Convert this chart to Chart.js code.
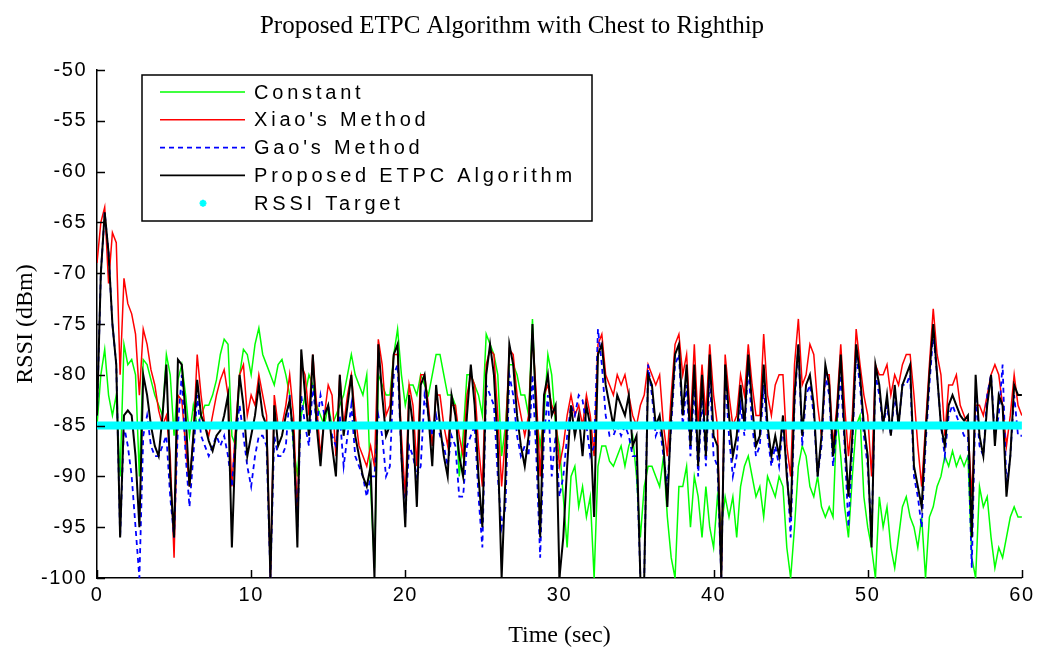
<!DOCTYPE html>
<html lang="en">

<head>
    <meta charset="UTF-8">
    <title>Proposed ETPC Algorithm with Chest to Righthip</title>
    <script src="https://cdn.jsdelivr.net/npm/chart.js"></script>
    <style>
        html, body { margin: 0; padding: 0; background: #fff; }
        #wrap { width: 1038px; height: 651px; }
    </style>
</head>

<body>
    <div id="wrap"><canvas id="rssiChart" width="1038" height="651"></canvas></div>

    <script>
        // samples are 0.25 s apart, 0..60 s (4 values per second, one row = 5 s)
        const timeStep = 0.25;
        const targetRssi = -85;

        const constantRssi = [
            -85, -80, -77.5, -82, -84, -82, -90, -77, -79, -78.5, -80, -90, -78.5, -79, -80.5, -82, -83, -84, -78, -80,
            -86, -80.5, -79, -82, -86, -83, -85, -84, -83, -83, -82, -80.5, -78, -76.5, -77, -86, -87, -80, -77.5, -78,
            -80, -77, -75.4, -78, -79, -80, -81, -79, -78.5, -80, -82, -87, -90, -84, -82, -80, -81, -83, -84, -85,
            -83, -85, -84, -83, -82, -80, -78, -80, -81, -82, -80, -91, -99, -80, -81, -82, -82, -78, -75.5, -80,
            -83, -81, -81, -82, -80, -81, -82, -80, -78, -78, -80, -82, -82, -83, -90, -86, -80, -80, -81, -82,
            -84, -76, -77, -78, -80, -88, -85, -79, -79, -80, -82, -82, -84, -74.5, -84, -87, -84, -78, -80, -85,
            -87, -92, -97, -90, -89, -93, -91, -94, -92, -100, -89, -87, -87, -88.5, -89, -88, -87, -89, -87, -86,
            -90, -96, -91, -89, -89, -90, -91, -88, -94, -98, -100, -91, -91, -89, -95, -90, -92, -96, -91, -95,
            -97, -92, -95, -92, -94, -92, -96, -91, -89, -88, -90, -92, -91, -94, -90, -91, -92, -90, -91, -97,
            -100, -95, -89, -87, -88, -91, -92, -90, -93, -94, -93, -94, -84, -88, -93, -96, -90, -85, -84, -92,
            -95, -97, -100, -92, -95, -93, -97, -99, -96, -93, -92, -94, -95, -97, -94, -100, -94, -93, -91, -90,
            -88, -89, -87.5, -89, -88, -89, -88, -98, -100, -91, -93, -92, -96, -99, -97, -98, -96, -94, -93, -94,
            -94
        ];

        const xiaoRssi = [
            -69, -65, -63.5, -71, -66, -67, -80, -70.5, -73, -74, -76, -82, -75.5, -77, -79.5, -81, -83.5, -85, -84, -88,
            -98, -82, -82.5, -87, -91, -86, -78, -82, -85, -86, -84, -82, -80.5, -79.5, -82, -91, -85, -80, -79, -84,
            -82, -83, -80, -82, -84, -100, -82, -85, -85, -83, -80, -84, -94, -79, -80, -84, -78, -83, -88, -84,
            -81, -82, -88, -80, -85, -82, -80, -84, -87, -88, -89, -87, -89, -76.5, -79, -84, -83, -78, -78, -86,
            -92, -81, -83, -89, -80, -80, -83, -87, -82, -82, -85, -87, -83, -83, -86, -88, -82, -80, -81, -87,
            -91, -79, -77.5, -78, -84, -91, -86, -77.5, -78, -82, -84, -86, -84, -76, -82, -90, -82, -81, -83, -84,
            -89, -87, -84, -82, -84, -83, -85, -82, -84, -88, -77, -76, -80, -81, -82, -80, -81, -80, -82, -84,
            -85, -83, -82, -79, -80, -81, -80, -85, -88, -82, -77, -76, -80, -78, -85, -77, -85, -79, -84, -77,
            -82, -85, -100, -78, -82, -85, -84, -80, -82, -77, -81, -84, -84, -76, -82, -84, -81, -80, -80, -87,
            -90, -79, -74.5, -81, -80, -77, -78, -83, -86, -80, -80, -87, -83, -77, -83, -88, -84, -75.5, -79, -82,
            -84, -90, -79, -80, -80, -79, -82, -80, -81, -79, -78, -78, -82, -87, -91, -85, -79, -73.5, -78, -80,
            -86, -81, -81, -80, -83, -84, -85, -92, -83, -83, -84, -82, -80, -79, -80, -83, -87, -84, -80, -83,
            -84
        ];

        const gaoRssi = [
            -84, -70, -64, -68, -75, -79, -96, -85, -87, -90, -95, -100, -86, -84, -87, -88, -88, -87, -86, -92,
            -96, -85, -80, -88, -93, -88, -82, -86, -87, -88, -87, -86, -87, -86, -88, -91, -86, -83, -86, -89,
            -91, -88, -86, -86, -87, -100, -86, -88, -88, -87, -82, -87, -95, -82, -85, -87, -81, -85, -82, -84,
            -83, -86, -87, -84, -89, -86, -83, -88, -89, -90, -92, -90, -90, -84, -86, -90, -89, -80, -79, -88,
            -94, -87, -88, -90, -89, -82, -84, -86, -84, -86, -87, -89, -86, -87, -92, -92, -87, -86, -85, -92,
            -97, -81, -82, -83, -90, -95, -93, -80, -82, -86, -88, -87, -88, -80, -88, -98, -86, -82, -90, -86,
            -92, -90, -86, -83, -84, -82, -82.5, -85, -88, -87, -75.5, -79, -84, -86, -86, -85, -86, -85, -86, -88,
            -88, -100, -100, -79, -82, -86, -85, -88, -91, -85, -79, -78, -85, -81, -88, -81, -90, -82, -89, -80,
            -88, -89, -100, -80, -86, -90, -88, -83, -86, -79, -85, -88, -87, -81, -86, -89, -87, -89, -85, -89,
            -96, -83, -77, -87, -82, -81, -84, -90, -87, -80, -82, -89, -85, -80, -87, -95, -87, -78, -81, -86,
            -89, -96, -80, -82, -85, -83, -86, -82, -85, -81, -81, -80, -90, -92, -95, -87, -81, -76, -80, -85,
            -88, -84, -83, -84, -85, -86, -86, -99, -82, -87, -88, -82, -80, -86, -84, -79, -91, -88, -82, -86,
            -86
        ];

        const etpcRssi = [
            -84, -70, -64, -68, -75, -79, -96, -84, -83.5, -84, -88, -95, -80, -82, -85, -87, -88, -84, -79, -90,
            -96, -78.5, -79, -84, -91, -86, -80.5, -84, -85, -86.5, -87.5, -86, -85.5, -84, -82, -97, -86, -80, -83, -88,
            -86, -84, -81, -84, -85, -100, -83, -87, -86, -84, -82.5, -86, -97, -77.5, -82, -86, -78, -85, -89, -84,
            -83, -87, -90, -80, -86, -83, -80, -86, -88, -90, -91, -89, -100, -77, -82, -86, -85, -78, -77, -88,
            -95, -82, -85, -93, -81, -80, -84, -89, -81, -85, -88, -90, -82, -84, -88, -90, -84, -79, -83, -90,
            -95, -80, -77, -80, -87, -100, -90, -77, -79, -84, -87, -89, -86, -75, -84, -96, -82, -80, -84, -83,
            -100, -96, -89, -83, -86, -84, -88, -83, -85, -94, -78, -77, -81, -83, -85, -82, -83, -84, -82, -87,
            -86, -100, -100, -80, -81, -85, -84, -87, -93, -84, -78, -77, -84, -79, -87, -79, -89, -80, -88, -78,
            -86, -87, -100, -79, -84, -88, -86, -81, -85, -78, -83, -87, -86, -79, -85, -88, -86, -88, -84, -90,
            -94, -82, -77, -86, -81, -80, -83, -90, -86, -79, -81, -88, -84, -78, -86, -92, -86, -77, -80, -85,
            -88, -97, -79, -81, -85, -82, -86, -81, -85, -81, -80, -79, -89, -91, -93, -86, -80, -75, -80, -85,
            -87, -83, -82, -83, -84, -84.5, -84, -96, -80, -86, -88, -83, -80, -87, -82, -83, -92, -88, -81, -82,
            -82
        ];

        const xTicks = [0, 10, 20, 30, 40, 50, 60];
        const yTicks = [-100, -95, -90, -85, -80, -75, -70, -65, -60, -55, -50];

        const timeSec = constantRssi.map((v, i) => i * timeStep);
        const toPoints = arr => arr.map((v, i) => ({ x: timeSec[i], y: v }));
        const targetLine = timeSec.map(() => targetRssi);

        // legend entries, drawn inside the plot (top-left) like the original figure
        const legendItems = [
            { label: 'Constant', color: '#00ff00', dash: [] },
            { label: "Xiao's Method", color: '#ff0000', dash: [] },
            { label: "Gao's Method", color: '#0000ff', dash: [5, 4] },
            { label: 'Proposed ETPC Algorithm', color: '#000000', dash: [] },
            { label: 'RSSI Target', color: '#00ffff', star: true }
        ];

        const figurePlugin = {
            id: 'figure',
            beforeDraw(chart) {
                chart.ctx.letterSpacing = '1.5px';
            },
            afterDraw(chart) {
                const ctx = chart.ctx;
                const area = chart.chartArea;
                const xs = chart.scales.x;
                const ys = chart.scales.y;

                ctx.save();
                // inward tick marks
                ctx.strokeStyle = '#000';
                ctx.lineWidth = 1.5;
                ctx.beginPath();
                xTicks.forEach(v => {
                    const px = Math.round(xs.getPixelForValue(v)) + 0.5;
                    ctx.moveTo(px, area.bottom);
                    ctx.lineTo(px, area.bottom - 8);
                });
                yTicks.forEach(v => {
                    const py = Math.round(ys.getPixelForValue(v)) + 0.5;
                    ctx.moveTo(area.left, py);
                    ctx.lineTo(area.left + 8, py);
                });
                ctx.stroke();

                // legend box
                const lx = area.left + 45, ly = area.top + 5, lw = 450, lh = 146;
                ctx.fillStyle = '#fff';
                ctx.fillRect(lx, ly, lw, lh);
                ctx.strokeStyle = '#000';
                ctx.lineWidth = 1.5;
                ctx.strokeRect(lx, ly, lw, lh);
                ctx.font = "20px 'Liberation Sans', Arial, sans-serif";
                ctx.letterSpacing = '3.8px';
                ctx.textBaseline = 'middle';
                ctx.textAlign = 'left';
                legendItems.forEach((item, i) => {
                    const y = ly + 17 + i * 27.8;
                    if (item.star) {
                        ctx.strokeStyle = item.color;
                        ctx.lineWidth = 2;
                        ctx.setLineDash([]);
                        ctx.beginPath();
                        for (let k = 0; k < 4; k++) {
                            const a = k * Math.PI / 4;
                            ctx.moveTo(lx + 61 - 3.5 * Math.cos(a), y - 3.5 * Math.sin(a));
                            ctx.lineTo(lx + 61 + 3.5 * Math.cos(a), y + 3.5 * Math.sin(a));
                        }
                        ctx.stroke();
                    } else {
                        ctx.strokeStyle = item.color;
                        ctx.lineWidth = 1.6;
                        ctx.setLineDash(item.dash);
                        ctx.beginPath();
                        ctx.moveTo(lx + 18, y);
                        ctx.lineTo(lx + 103, y);
                        ctx.stroke();
                        ctx.setLineDash([]);
                    }
                    ctx.fillStyle = '#000';
                    ctx.fillText(item.label, lx + 112, y + 1);
                });

                // serif titles
                ctx.letterSpacing = '0px';
                ctx.fillStyle = '#000';
                ctx.textAlign = 'center';
                ctx.font = "25px 'Liberation Serif', 'Times New Roman', serif";
                ctx.fillText('Proposed ETPC Algorithm with Chest to Righthip', chart.width / 2 - 7, 26);
                ctx.font = "24px 'Liberation Serif', 'Times New Roman', serif";
                ctx.fillText('Time (sec)', (area.left + area.right) / 2, 636);
                ctx.translate(26, (area.top + area.bottom) / 2);
                ctx.rotate(-Math.PI / 2);
                ctx.fillText('RSSI (dBm)', 0, 0);
                ctx.restore();
            }
        };

        const ctx = document.getElementById('rssiChart').getContext('2d');
        new Chart(ctx, {
            type: 'line',
            data: {
                datasets: [
                    {
                        label: 'Constant', data: toPoints(constantRssi), borderColor: '#00ff00',
                        borderWidth: 1.5, order: 5
                    },
                    {
                        label: "Xiao's Method", data: toPoints(xiaoRssi), borderColor: '#ff0000',
                        borderWidth: 1.5, order: 4
                    },
                    {
                        label: "Gao's Method", data: toPoints(gaoRssi), borderColor: '#0000ff',
                        borderWidth: 1.8, borderDash: [5, 4], order: 3
                    },
                    {
                        label: 'Proposed ETPC Algorithm', data: toPoints(etpcRssi), borderColor: '#000000',
                        borderWidth: 2, order: 2
                    },
                    {
                        label: 'RSSI Target', data: toPoints(targetLine), borderColor: '#00ffff',
                        borderWidth: 8, order: 1
                    }
                ]
            },
            options: {
                responsive: false,
                animation: false,
                devicePixelRatio: 1,
                layout: { padding: { top: 70, right: 11, bottom: 0, left: 0 } },
                elements: {
                    point: { radius: 0 },
                    line: { tension: 0, fill: false }
                },
                plugins: {
                    legend: { display: false },
                    title: { display: false },
                    tooltip: { enabled: false }
                },
                scales: {
                    x: {
                        type: 'linear', min: 0, max: 60,
                        afterBuildTicks: s => { s.ticks = xTicks.map(v => ({ value: v })); },
                        afterFit: s => { s.height = 73; },
                        grid: { display: false, drawTicks: false },
                        border: { display: true, color: '#000', width: 1.5 },
                        ticks: {
                            color: '#000', padding: 5, maxRotation: 0, autoSkip: false,
                            font: { family: "'Liberation Sans', Arial, sans-serif", size: 20 }
                        }
                    },
                    y: {
                        type: 'linear', min: -100, max: -50,
                        afterBuildTicks: s => { s.ticks = yTicks.map(v => ({ value: v })); },
                        afterFit: s => { s.width = 97; },
                        grid: { display: false, drawTicks: false },
                        border: { display: true, color: '#000', width: 1.5 },
                        ticks: {
                            color: '#000', padding: 10,
                            font: { family: "'Liberation Sans', Arial, sans-serif", size: 20 }
                        }
                    }
                }
            },
            plugins: [figurePlugin]
        });
    </script>
</body>

</html>
